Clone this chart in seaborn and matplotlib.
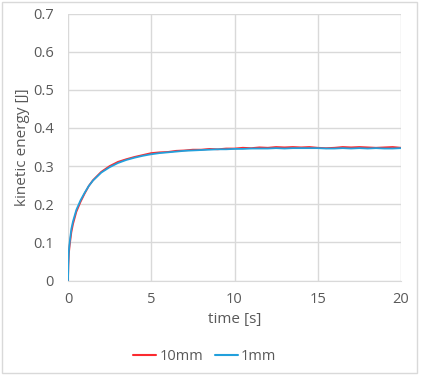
import numpy as np
import pandas as pd
import matplotlib
matplotlib.use("Agg")
import matplotlib.pyplot as plt
import seaborn as sns
from matplotlib.patches import Rectangle

# values
t_early = [0, 0.02, 0.05, 0.1, 0.2, 0.3, 0.5, 0.75, 1.0, 1.25, 1.5, 2.0, 2.5, 3.0, 3.5, 4.0, 4.5]
t_late = [5, 5.5, 6, 6.5, 7, 7.5, 8, 8.5, 9, 9.5, 10, 10.5, 11, 11.5, 12, 12.5, 13, 13.5, 14,
          14.5, 15, 15.5, 16, 16.5, 17, 17.5, 18, 18.5, 19, 19.5, 20]

e_1mm_early = [0, 0.045, 0.078, 0.100, 0.135, 0.155, 0.185, 0.210, 0.230, 0.248, 0.262,
               0.283, 0.297, 0.308, 0.316, 0.322, 0.327]
e_1mm_late = [0.331, 0.334, 0.336, 0.338, 0.340, 0.341, 0.342, 0.343, 0.344, 0.344, 0.345,
              0.345, 0.346, 0.346, 0.346, 0.347, 0.346, 0.347, 0.347, 0.347, 0.347, 0.346,
              0.346, 0.347, 0.346, 0.347, 0.346, 0.347, 0.346, 0.346, 0.347]

e_10mm_early = [0, 0.040, 0.070, 0.092, 0.126, 0.148, 0.180, 0.206, 0.228, 0.248, 0.263,
                0.285, 0.300, 0.311, 0.318, 0.324, 0.329]
e_10mm_late = [0.334, 0.336, 0.337, 0.340, 0.341, 0.343, 0.343, 0.345, 0.344, 0.346, 0.346,
               0.348, 0.347, 0.349, 0.348, 0.350, 0.349, 0.350, 0.349, 0.350, 0.348, 0.347,
               0.348, 0.350, 0.349, 0.350, 0.349, 0.348, 0.349, 0.350, 0.348]

series_names = ["10mm", "1mm"]
series_colors = ["#fb2a2f", "#22a0dc"]

time = t_early + t_late
df = pd.concat([
    pd.DataFrame({"time": time, "energy": e_10mm_early + e_10mm_late, "series": "10mm"}),
    pd.DataFrame({"time": time, "energy": e_1mm_early + e_1mm_late, "series": "1mm"}),
])

sns.set_style("white")
plt.rcParams["font.family"] = ["Open Sans", "DejaVu Sans"]
text_color = "#595959"
grid_color = "#d9d9d9"

fig = plt.figure(figsize=(4.22, 3.76), dpi=100)
ax = fig.add_axes([68 / 422, 1 - 280.5 / 376, 333 / 422, 267 / 376])

sns.lineplot(data=df, x="time", y="energy", hue="series", hue_order=series_names,
             palette=series_colors, linewidth=1.3, ax=ax, legend=False)

ax.set_xlim(0, 20)
ax.set_ylim(0, 0.7)
ax.set_xticks(np.arange(0, 21, 5))
ax.set_yticks(np.arange(0, 0.71, 0.1))
ax.set_yticklabels(["0", "0.1", "0.2", "0.3", "0.4", "0.5", "0.6", "0.7"])
ax.grid(True, color=grid_color, linewidth=1)
ax.set_axisbelow(True)
for side in ["top", "right", "left"]:
    ax.spines[side].set_visible(False)
ax.spines["bottom"].set_color(grid_color)
ax.tick_params(length=0, colors=text_color, labelsize=10.5)
ax.tick_params(axis="y", pad=10)
ax.tick_params(axis="x", pad=8)
ax.set_xlabel("time [s]", color=text_color, fontsize=11, labelpad=4)
ax.set_ylabel("kinetic energy [J]", color=text_color, fontsize=11, labelpad=2)

handles = [plt.Line2D([], [], color=c, linewidth=1.5) for c in series_colors]
fig.legend(handles, series_names, loc="center", bbox_to_anchor=(0.485, 1 - 357 / 376),
           ncol=2, frameon=False, fontsize=10.5, labelcolor=text_color,
           handlelength=1.6, handletextpad=0.2, columnspacing=0.8)

fig.patches.append(Rectangle((1.5 / 422, 3 / 376), 415 / 422, 371.5 / 376,
                             transform=fig.transFigure, fill=False,
                             edgecolor=grid_color, linewidth=1))

fig.savefig("out.png", dpi=100)
